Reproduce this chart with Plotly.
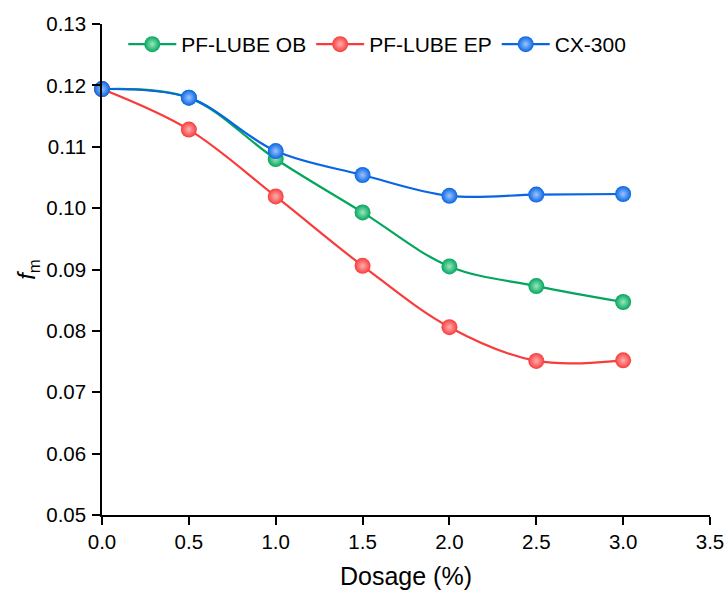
import plotly.graph_objects as go

dosage = [0.0, 0.5, 1.0, 1.5, 2.0, 2.5, 3.0]
ob = [0.1194, 0.1180, 0.1080, 0.0993, 0.0905, 0.0873, 0.0847]
ep = [0.1194, 0.1128, 0.1019, 0.0906, 0.0806, 0.0751, 0.0752]
cx = [0.1194, 0.1180, 0.1093, 0.1054, 0.1020, 0.1022, 0.1023]

series = [
    ("PF-LUBE OB", ob, "#03A65C", "#9BE6BF"),
    ("PF-LUBE EP", ep, "#F83C3C", "#FFB0B0"),
    ("CX-300", cx, "#0865E3", "#9CC4FF"),
]

fig = go.Figure()
for name, vals, col, hl in series:
    fig.add_trace(go.Scatter(
        x=dosage, y=vals, name=name, mode="lines+markers",
        line=dict(color=col, width=2.2, shape="spline", smoothing=1.0),
        marker=dict(size=16, color=col, line=dict(width=0),
                    gradient=dict(type="radial", color=hl)),
        cliponaxis=False,
    ))

FONT = "Liberation Sans, Arial, sans-serif"
axis_font = dict(family=FONT, size=20, color="black")
fig.update_layout(
    width=727, height=590,
    margin=dict(l=102, r=17, t=24, b=75, autoexpand=False),
    plot_bgcolor="white", paper_bgcolor="white",
    font=axis_font,
    showlegend=True,
    hovermode=False,
    legend=dict(orientation="h", x=0.035, y=1.0, xanchor="left", yanchor="top",
                font=dict(family=FONT, size=21, color="black"),
                bgcolor="rgba(0,0,0,0)", itemwidth=48, tracegroupgap=0),
    xaxis=dict(range=[0, 3.5], tickvals=[0, 0.5, 1, 1.5, 2, 2.5, 3, 3.5], tickformat=".1f",
               showline=True, linecolor="black", linewidth=1.5, ticks="outside",
               ticklen=8, tickwidth=1.5, tickcolor="black", showgrid=False, zeroline=False,
               tickfont=dict(family=FONT, size=20.5), automargin=False,
               title=dict(text="Dosage (%)", font=dict(family=FONT, size=25), standoff=21), mirror=False),
    yaxis=dict(range=[0.05, 0.13], tickvals=[0.05, 0.06, 0.07, 0.08, 0.09, 0.10, 0.11, 0.12, 0.13],
               tickformat=".2f",
               showline=True, linecolor="black", linewidth=1.5, ticks="outside",
               ticklen=8, tickwidth=1.5, tickcolor="black", showgrid=False, zeroline=False,
               tickfont=dict(family=FONT, size=20.5), automargin=False, ticklabelstandoff=2,
               title=dict(text="<i>f</i><sub>m</sub>", font=dict(family=FONT, size=24), standoff=4), mirror=False),
)

# remove the browser's default 8px body margin so the 727x590 figure fills the window exactly
fig.write_html("out.html", config={"displayModeBar": False},
               post_script="document.body.style.margin='0px';")
